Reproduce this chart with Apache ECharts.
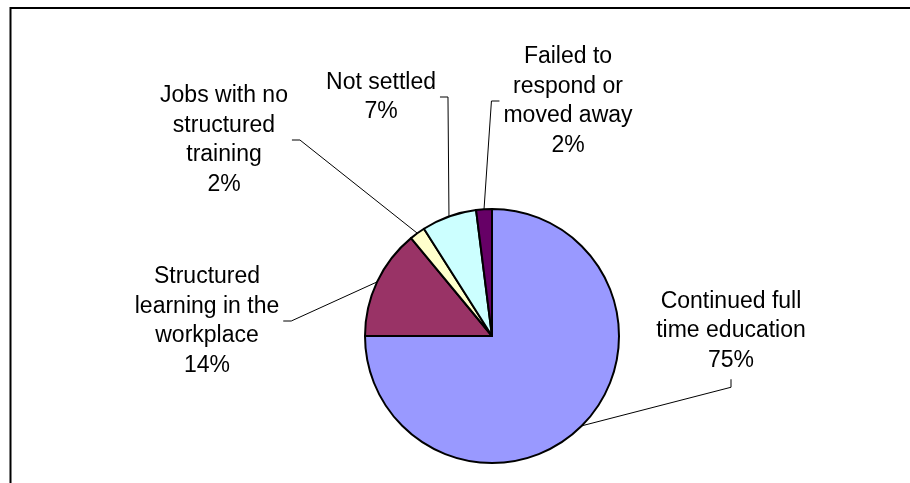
<!DOCTYPE html>
<html>
<head>
<meta charset="utf-8">
<title>Destinations</title>
<script src="https://cdn.jsdelivr.net/npm/echarts@6/dist/echarts.min.js"></script>
<style>
  html, body { margin: 0; padding: 0; background: #ffffff; }
  #chart { width: 910px; height: 483px; }
</style>
</head>
<body>
<div id="chart"></div>
<script>
// Destinations, share of all leavers (%)
const categories = [
  'Continued full\ntime education',
  'Structured\nlearning in the\nworkplace',
  'Jobs with no\nstructured\ntraining',
  'Not settled',
  'Failed to\nrespond or\nmoved away'
];
const shares = [75, 14, 2, 7, 2];
const sliceColors = ['#9999FF', '#993366', '#FFFFCC', '#CCFFFF', '#660066'];

// Where each label block is centred, and which side its leader line leaves from
const labelSpots = [[731, 331], [207, 321], [224, 140], [381, 97], [568, 101]];
const leaderSides = ['bottom', 'right', 'right', 'right', 'left'];
const tick = 8;

const chart = echarts.init(document.getElementById('chart'), null, { renderer: 'canvas' });

chart.setOption({
  backgroundColor: '#ffffff',
  animation: false,
  graphic: [{
    type: 'rect',
    silent: true,
    shape: { x: 10.5, y: 8, width: 1200, height: 1200 },
    style: { fill: 'none', stroke: '#000000', lineWidth: 2 }
  }],
  series: [{
    type: 'pie',
    center: [492, 336],
    radius: 127,
    startAngle: 90,
    clockwise: true,
    avoidLabelOverlap: false,
    emphasis: { disabled: true },
    data: categories.map((name, i) => ({
      name: name,
      value: shares[i],
      itemStyle: { color: sliceColors[i] }
    })),
    itemStyle: { borderColor: '#000000', borderWidth: 2 },
    label: {
      show: true,
      position: 'outside',
      color: '#000000',
      fontFamily: '"Liberation Sans", Arial, sans-serif',
      fontSize: 23,
      lineHeight: 29.5,
      align: 'center',
      padding: 4,
      formatter: p => p.name + '\n' + Math.round(p.percent) + '%'
    },
    labelLine: {
      show: true,
      length: 10,
      length2: 10,
      lineStyle: { color: '#000000', width: 1 }
    },
    labelLayout: function (params) {
      const i = params.dataIndex;
      const cx = labelSpots[i][0];
      const cy = labelSpots[i][1];
      const w = params.labelRect.width;
      const h = params.labelRect.height;
      const anchor = params.labelLinePoints[0];
      let start, bend;
      switch (leaderSides[i]) {
        case 'right':
          start = [cx + w / 2, cy]; bend = [start[0] + tick, cy]; break;
        case 'left':
          start = [cx - w / 2, cy]; bend = [start[0] - tick, cy]; break;
        case 'top':
          start = [cx, cy - h / 2]; bend = [cx, start[1] - tick]; break;
        default:
          start = [cx, cy + h / 2]; bend = [cx, start[1] + tick];
      }
      return {
        x: cx,
        y: cy,
        align: 'center',
        verticalAlign: 'middle',
        labelLinePoints: [[anchor[0], anchor[1]], bend, start]
      };
    }
  }]
});
</script>
</body>
</html>
